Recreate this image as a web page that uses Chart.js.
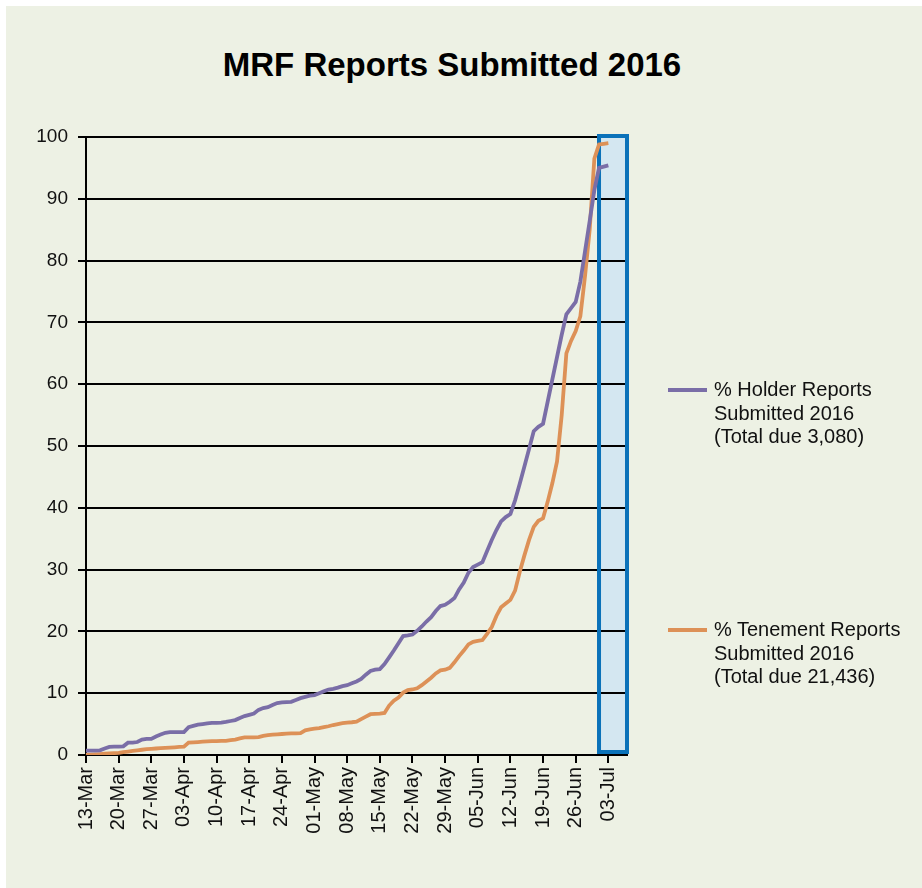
<!DOCTYPE html>
<html>
<head>
<meta charset="utf-8">
<script src="https://cdn.jsdelivr.net/npm/chart.js@4/dist/chart.umd.min.js"></script>
<style>
  body { margin: 0; background: #fff; font-family: "Liberation Sans", Arial, sans-serif; }
  #wrap { position: absolute; left: 6px; top: 6px; width: 916px; height: 882px; background: #edf1e4; }
  #title { position: absolute; left: -6px; top: 39px; width: 904px; text-align: center; font-weight: bold; font-size: 33px; line-height: 40px; color: #000; }
  canvas { position: absolute; left: 0; top: 0; }
  .leg { position: absolute; left: 662px; font-size: 20px; line-height: 23.5px; color: #111; }
  .leg .swatch { position: absolute; left: 0; top: 10px; width: 39px; height: 4px; }
  .leg .text { margin-left: 46px; white-space: nowrap; }
</style>
</head>
<body>
<div id="wrap">
  <div id="title">MRF Reports Submitted 2016</div>
  <canvas id="chart" width="916" height="882"></canvas>
</div>
<script>
// Categories: one per day, 13-Mar-2016 to 07-Jul-2016
const firstDay = "2016-03-13";
const dayCount = 117;
const monthNames = ["Jan", "Feb", "Mar", "Apr", "May", "Jun", "Jul", "Aug", "Sep", "Oct", "Nov", "Dec"];
const tickEvery = 7;

// Shaded period on the axis
const highlightStart = "01-Jul";
const highlightEnd = "07-Jul";

// % Holder Reports Submitted 2016 (one value per day from 13-Mar)
const holderPct = [
  0.7, 0.7, 0.7, 0.75, 1.05, 1.3, 1.35, 1.35, 1.4, 2.0,
  2.0, 2.1, 2.5, 2.6, 2.6, 3.0, 3.3, 3.6, 3.7, 3.7,
  3.7, 3.7, 4.5, 4.7, 4.9, 5.0, 5.1, 5.2, 5.2, 5.25,
  5.35, 5.5, 5.65, 6.0, 6.3, 6.5, 6.7, 7.3, 7.6, 7.75,
  8.1, 8.4, 8.5, 8.55, 8.6, 8.9, 9.2, 9.4, 9.6, 9.7,
  10.0, 10.3, 10.6, 10.7, 10.9, 11.15, 11.3, 11.6, 11.9, 12.3,
  13.0, 13.6, 13.8, 13.9, 14.7, 15.8, 16.9, 18.1, 19.25, 19.35,
  19.5, 20.1, 20.8, 21.6, 22.3, 23.3, 24.1, 24.3, 24.8, 25.4,
  26.8, 27.9, 29.5, 30.4, 30.8, 31.2, 33.0, 34.8, 36.4, 37.8,
  38.5, 39.0, 41.2, 43.9, 46.7, 49.5, 52.4, 53.1, 53.6, 57.2,
  60.8, 64.4, 68.0, 71.3, 72.3, 73.3, 76.6, 81.5, 86.4, 91.4,
  95.0, 95.2, 95.4
];

// % Tenement Reports Submitted 2016
const tenementPct = [
  0.0, 0.05, 0.1, 0.15, 0.2, 0.25, 0.3, 0.35, 0.45, 0.55,
  0.65, 0.75, 0.85, 0.95, 1.0, 1.05, 1.1, 1.15, 1.2, 1.25,
  1.3, 1.35, 2.0, 2.05, 2.1, 2.15, 2.2, 2.25, 2.25, 2.3,
  2.3, 2.4, 2.5, 2.7, 2.85, 2.85, 2.85, 2.9, 3.1, 3.2,
  3.3, 3.35, 3.4, 3.45, 3.5, 3.5, 3.55, 4.0, 4.15, 4.25,
  4.35, 4.5, 4.65, 4.85, 5.0, 5.15, 5.25, 5.3, 5.4, 5.8,
  6.2, 6.6, 6.65, 6.7, 6.8, 8.0, 8.8, 9.3, 10.1, 10.5,
  10.6, 10.8, 11.3, 11.9, 12.5, 13.2, 13.7, 13.8, 14.1, 15.0,
  16.0, 16.9, 17.9, 18.3, 18.45, 18.6, 19.6, 20.7, 22.5, 23.9,
  24.5, 25.1, 26.6, 29.6, 32.3, 34.8, 36.9, 37.9, 38.3, 41.0,
  44.0, 47.5, 55.0, 65.0, 67.0, 68.6, 71.0, 77.5, 85.0, 96.5,
  98.8, 98.9, 99.0
];

const yTicks = [0, 10, 20, 30, 40, 50, 60, 70, 80, 90, 100];

const holderLegend = ["% Holder Reports", "Submitted 2016", "(Total due 3,080)"];
const tenementLegend = ["% Tenement Reports", "Submitted 2016", "(Total due 21,436)"];

const holderColor = "#7a6ea7";
const tenementColor = "#dd9157";

function buildDayLabels(start, count) {
  const d0 = new Date(start + "T00:00:00Z");
  const out = [];
  for (let i = 0; i < count; i++) {
    const d = new Date(d0.getTime() + i * 86400000);
    const dd = String(d.getUTCDate()).padStart(2, "0");
    out.push(dd + "-" + monthNames[d.getUTCMonth()]);
  }
  return out;
}

const dayLabels = buildDayLabels(firstDay, dayCount);

// Shaded box behind the grid, outline drawn on top of the grid
function highlightRect(chart) {
  const x = chart.scales.x;
  const y = chart.scales.y;
  const left = x.getPixelForValue(dayLabels.indexOf(highlightStart));
  const right = x.getPixelForValue(dayLabels.indexOf(highlightEnd));
  const top = y.getPixelForValue(yTicks[yTicks.length - 1]) - 1;
  const bottom = y.getPixelForValue(yTicks[0]) - 3;
  return { left, top, width: right - left, height: bottom - top };
}

const highlightPlugin = {
  id: "highlight",
  beforeDraw(chart) {
    const r = highlightRect(chart);
    const ctx = chart.ctx;
    ctx.save();
    ctx.fillStyle = "#d4e7f1";
    ctx.fillRect(r.left, r.top, r.width, r.height);
    ctx.restore();
  },
  beforeDatasetsDraw(chart) {
    const r = highlightRect(chart);
    const ctx = chart.ctx;
    ctx.save();
    ctx.strokeStyle = "#0b72b9";
    ctx.lineWidth = 4;
    ctx.strokeRect(r.left, r.top, r.width, r.height);
    ctx.restore();
  },
};

const xFont = { family: "'Liberation Sans', Arial, sans-serif", size: 20 };
const yFont = { family: "'Liberation Sans', Arial, sans-serif", size: 19 };

new Chart(document.getElementById("chart"), {
  type: "line",
  data: {
    labels: dayLabels,
    datasets: [
      {
        label: holderLegend.join(" "),
        data: holderPct,
        borderColor: holderColor,
        borderWidth: 3.8,
        pointRadius: 0,
        tension: 0,
        fill: false,
      },
      {
        label: tenementLegend.join(" "),
        data: tenementPct,
        borderColor: tenementColor,
        borderWidth: 3.8,
        pointRadius: 0,
        tension: 0,
        fill: false,
      },
    ],
  },
  options: {
    responsive: false,
    animation: false,
    layout: { padding: { top: 131, left: 0, right: 295, bottom: 0 } },
    plugins: {
      legend: { display: false },
      title: { display: false },
      tooltip: { enabled: false },
    },
    scales: {
      x: {
        type: "category",
        offset: false,
        afterFit: (scale) => {
          scale.height = 133;
        },
        border: { color: "#000", width: 2 },
        grid: {
          drawOnChartArea: false,
          drawTicks: true,
          tickLength: 8,
          lineWidth: 2,
          color: (ctx) => (ctx.index % tickEvery === 0 ? "#000" : "rgba(0,0,0,0)"),
        },
        ticks: {
          autoSkip: false,
          maxRotation: 90,
          minRotation: 90,
          padding: 4,
          color: "#111",
          font: xFont,
          callback: (value, index) => (index % tickEvery === 0 ? dayLabels[index] : ""),
        },
      },
      y: {
        min: yTicks[0],
        max: yTicks[yTicks.length - 1],
        afterFit: (scale) => {
          scale.width = 80;
        },
        afterBuildTicks: (scale) => {
          scale.ticks = yTicks.map((v) => ({ value: v }));
        },
        border: { color: "#000", width: 2 },
        grid: { color: "#000", lineWidth: 2, tickLength: 8, drawTicks: true },
        ticks: { padding: 10, color: "#111", font: yFont },
      },
    },
  },
  plugins: [highlightPlugin],
});

// Legend, placed beside the chart as in the original
function addLegend(lines, color, top) {
  const box = document.createElement("div");
  box.className = "leg";
  box.style.top = top + "px";
  box.innerHTML =
    '<div class="swatch" style="background:' + color + '"></div>' +
    '<div class="text">' + lines.join("<br>") + "</div>";
  document.getElementById("wrap").appendChild(box);
}
addLegend(holderLegend, holderColor, 372);
addLegend(tenementLegend, tenementColor, 612);
</script>
</body>
</html>
